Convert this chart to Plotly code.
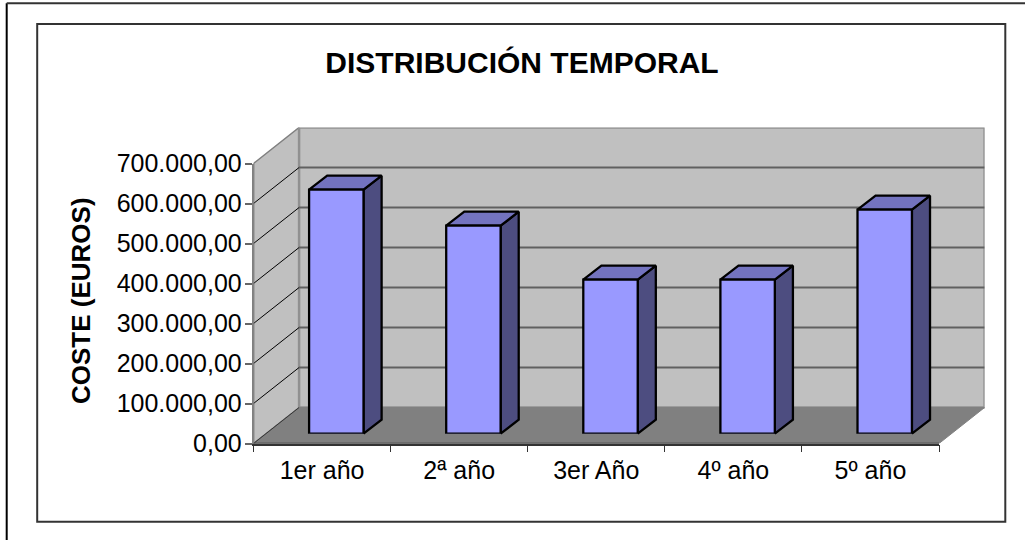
import plotly.graph_objects as go

# ---- data ----
categories = ["1er año", "2ª año", "3er Año", "4º año", "5º año"]
costs = [610000, 520000, 385000, 385000, 560000]
y_ticks = [0, 100000, 200000, 300000, 400000, 500000, 600000, 700000]
title_text = "DISTRIBUCIÓN TEMPORAL"
y_title_text = "COSTE (EUROS)"

# ---- pseudo-3D geometry, in data units ----
Y_MAX = 700000
WALL_DX = 0.3326      # depth of the box along the category axis
WALL_DY = 90000       # depth of the box along the value axis
BAR_SHIFT_X = 0.104   # front face of the bars, offset from the floor's front edge
BAR_SHIFT_Y = 24500
BAR_DX = 0.132        # depth of a bar
BAR_DY = 35000
BAR_W = 0.397

# ---- pixel layout ----
W, H = 1025, 540
X0, X1, Y0, Y1 = 253.5, 939.0, 443.5, 163.5  # front plane of the box
PX_X = (X1 - X0) / len(categories)
PX_Y = (Y0 - Y1) / Y_MAX
FONT = "Liberation Sans, Arial, sans-serif"
INK = "#000000"


def fx(px):
    return px / W


def fy(px):
    return 1 - px / H


n = len(categories)
fig = go.Figure()


def poly(xs, ys, fill, line, width=1.0):
    fig.add_trace(go.Scatter(x=xs, y=ys, xaxis="x2", yaxis="y2", mode="lines",
                             fill="toself", fillcolor=fill,
                             line=dict(color=line, width=width),
                             hoverinfo="skip", showlegend=False))


def seg(xs, ys, color, width):
    fig.add_trace(go.Scatter(x=xs, y=ys, xaxis="x2", yaxis="y2", mode="lines",
                             line=dict(color=color, width=width),
                             hoverinfo="skip", showlegend=False))


# hidden trace that keeps the labelled front axes alive
fig.add_trace(go.Bar(x=categories, y=costs, xaxis="x", yaxis="y",
                     marker=dict(opacity=0), hoverinfo="skip", showlegend=False))

# walls and floor
poly([0, WALL_DX, WALL_DX, 0, 0], [0, WALL_DY, Y_MAX + WALL_DY, Y_MAX, 0], "#C0C0C0", "#808080", 1.5)
poly([WALL_DX, n + WALL_DX, n + WALL_DX, WALL_DX, WALL_DX],
     [WALL_DY, WALL_DY, Y_MAX + WALL_DY, Y_MAX + WALL_DY, WALL_DY], "#C0C0C0", "#909090", 2.5)
poly([0, n, n + WALL_DX, WALL_DX, 0], [0, 0, WALL_DY, WALL_DY, 0], "#808080", "#808080", 1)

# gridlines on both walls
for v in y_ticks[1:-1]:
    seg([WALL_DX, n + WALL_DX], [v + WALL_DY, v + WALL_DY], "#606060", 2)
    seg([0, WALL_DX], [v, v + WALL_DY], INK, 1)
seg([0, WALL_DX], [0, WALL_DY], "#333333", 1)
seg([0, n], [0, 0], "#333333", 1.5)
seg([0, 0], [0, Y_MAX], "#808080", 1.5)

# side and top faces of the bars
for i, v in enumerate(costs):
    left = i + 0.5 - BAR_W / 2 + BAR_SHIFT_X
    right = left + BAR_W
    base = BAR_SHIFT_Y
    top = v + BAR_SHIFT_Y
    poly([right, right + BAR_DX, right + BAR_DX, right, right],
         [base, base + BAR_DY, top + BAR_DY, top, base], "#4D4D80", INK, 2.3)
    poly([left, left + BAR_DX, right + BAR_DX, right, left],
         [top, top + BAR_DY, top + BAR_DY, top, top], "#7373BF", INK, 2.3)

# front faces of the bars: real bars on their own shifted axes
fig.add_trace(go.Bar(x=categories, y=costs, xaxis="x3", yaxis="y3", width=BAR_W,
                     marker=dict(color="#9999FF", line=dict(color=INK, width=2.3)),
                     hoverinfo="skip", showlegend=False))

shift_px_x = BAR_SHIFT_X * PX_X
shift_px_y = BAR_SHIFT_Y * PX_Y
x2_end = X0 + (n + WALL_DX) * PX_X
y2_top = Y0 - (Y_MAX + WALL_DY) * PX_Y

frame = "#333333"
shapes = [
    dict(type="rect", xref="paper", yref="paper", x0=fx(37.2), x1=fx(1005.3), y0=fy(521.7), y1=fy(24),
         line=dict(color=frame, width=2), layer="below"),
    dict(type="line", xref="paper", yref="paper", x0=fx(6.7), x1=fx(6.7), y0=fy(3.3), y1=fy(560),
         line=dict(color=INK, width=2), layer="below"),
    dict(type="line", xref="paper", yref="paper", x0=fx(6.7), x1=fx(1040), y0=fy(3.3), y1=fy(3.3),
         line=dict(color=frame, width=2), layer="below"),
]

fig.update_layout(
    width=W, height=H, autosize=False,
    margin=dict(l=0, r=0, t=0, b=0, pad=0),
    paper_bgcolor="#FFFFFF", plot_bgcolor="rgba(0,0,0,0)",
    separators=",.",
    hovermode=False, showlegend=False, barmode="overlay",
    font=dict(family=FONT, color=INK, size=25),
    title=dict(text="<b>" + title_text + "</b>", x=522 / W, xanchor="center",
               y=fy(62), yanchor="middle", xref="container", yref="container",
               font=dict(family=FONT, size=30, color=INK)),
    xaxis=dict(type="category", categoryorder="array", categoryarray=categories,
               domain=[fx(X0), fx(X1)], range=[-0.5, n - 0.5], anchor="y",
               tickson="boundaries", ticks="outside", ticklen=7, tickwidth=1, tickcolor="#333333",
               ticklabelstandoff=4,
               showline=True, linecolor="#333333", linewidth=1.5, showgrid=False, zeroline=False,
               tickfont=dict(family=FONT, size=25, color=INK), fixedrange=True, automargin=False),
    yaxis=dict(domain=[fy(Y0), fy(Y1)], range=[0, Y_MAX], anchor="x",
               tickmode="array", tickvals=y_ticks, tickformat=",.2f",
               ticks="outside", ticklen=7, tickwidth=1.5, tickcolor="#666666",
               ticklabelstandoff=-2,
               showline=True, linecolor="#808080", linewidth=1.5, showgrid=False, zeroline=False,
               tickfont=dict(family=FONT, size=25, color=INK), fixedrange=True, automargin=False),
    xaxis2=dict(domain=[fx(X0), fx(x2_end)], range=[0, n + WALL_DX], anchor="y2",
                visible=False, fixedrange=True),
    yaxis2=dict(domain=[fy(Y0), fy(y2_top)], range=[0, Y_MAX + WALL_DY], anchor="x2",
                visible=False, fixedrange=True),
    xaxis3=dict(type="category", categoryorder="array", categoryarray=categories,
                domain=[fx(X0 + shift_px_x), fx(X1 + shift_px_x)], range=[-0.5, n - 0.5],
                anchor="y3", visible=False, fixedrange=True),
    yaxis3=dict(domain=[fy(Y0 - shift_px_y), fy(Y1 - shift_px_y)], range=[0, Y_MAX],
                anchor="x3", visible=False, fixedrange=True),
    shapes=shapes,
    annotations=[dict(text="<b>" + y_title_text + "</b>", xref="paper", yref="paper",
                      x=fx(81), y=fy(301), xanchor="center", yanchor="middle", textangle=-90,
                      showarrow=False, font=dict(family=FONT, size=26, color=INK))],
)

fig.write_html("out.html", config=dict(displayModeBar=False),
               post_script="document.body.style.margin='0';document.body.style.overflow='hidden';")
